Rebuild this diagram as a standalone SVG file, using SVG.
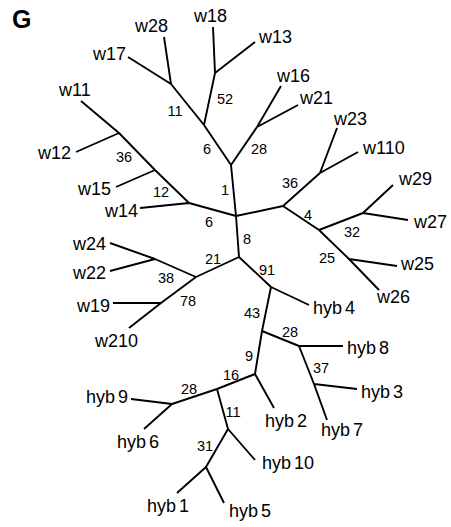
<svg xmlns="http://www.w3.org/2000/svg" width="451" height="527" viewBox="0 0 451 527">
  <style>
    .edge { stroke: #000; stroke-width: 1.9; fill: none; stroke-linecap: butt; }
    .leaf { font-family: "Liberation Sans", Arial, Helvetica, sans-serif; font-size: 18px; fill: #000; }
    .hyb { word-spacing: -2px; }
    .boot { font-family: "Liberation Sans", Arial, Helvetica, sans-serif; font-size: 14.5px; fill: #000; text-anchor: middle; }
    .panel { font-family: "Liberation Sans", Arial, Helvetica, sans-serif; font-size: 25px; font-weight: bold; fill: #000; }
  </style>
  <rect width="451" height="527" fill="#fff"/>
  <text class="panel" x="12" y="28">G</text>

  <!-- branches of the unrooted tree -->
  <g id="edges">
    <path class="edge" d="M236,216 L231,165 M231,165 L204,125 M231,165 L257,127"/>
    <path class="edge" d="M204,125 L215,73 M204,125 L171,84 M171,84 L128,57 M171,84 L164,37"/>
    <path class="edge" d="M215,73 L213,27 M215,73 L255,42 M257,127 L281,86 M257,127 L298,105"/>
    <path class="edge" d="M236,216 L283,206 M283,206 L320,173 M320,173 L337,128 M320,173 L358,152"/>
    <path class="edge" d="M283,206 L319,230 M319,230 L363,213 M363,213 L393,185 M363,213 L408,220"/>
    <path class="edge" d="M319,230 L349,259 M349,259 L397,266 M349,259 L379,290"/>
    <path class="edge" d="M236,216 L189,203 M189,203 L140,208 M189,203 L155,170 M155,170 L116,187"/>
    <path class="edge" d="M155,170 L119,133 M119,133 L76,152 M119,133 L81,101"/>
    <path class="edge" d="M236,216 L239,257 M239,257 L196,277 M196,277 L155,259 M155,259 L110,243 M155,259 L110,271"/>
    <path class="edge" d="M196,277 L161,303 M161,303 L113,303 M161,303 L129,328"/>
    <path class="edge" d="M239,257 L271,287 M271,287 L309,305 M271,287 L262,331"/>
    <path class="edge" d="M262,331 L299,346 M299,346 L343,346 M299,346 L314,384 M314,384 L357,389 M314,384 L327,420"/>
    <path class="edge" d="M262,331 L255,374 M255,374 L274,408 M255,374 L217,389"/>
    <path class="edge" d="M217,389 L172,404 M172,404 L131,399 M172,404 L144,429"/>
    <path class="edge" d="M217,389 L228,429 M228,429 L255,460 M228,429 L206,467 M206,467 L224,503 M206,467 L177,493"/>
  </g>

  <!-- leaves -->
  <g id="w17"><text class="leaf" x="93" y="60">w17</text></g>
  <g id="w28"><text class="leaf" x="135" y="32">w28</text></g>
  <g id="w18"><text class="leaf" x="194" y="22">w18</text></g>
  <g id="w13"><text class="leaf" x="259" y="43">w13</text></g>
  <g id="w16"><text class="leaf" x="277" y="82">w16</text></g>
  <g id="w21"><text class="leaf" x="300" y="104">w21</text></g>
  <g id="w23"><text class="leaf" x="334" y="125">w23</text></g>
  <g id="w110"><text class="leaf" x="363" y="154">w110</text></g>
  <g id="w29"><text class="leaf" x="399" y="185">w29</text></g>
  <g id="w27"><text class="leaf" x="414" y="228">w27</text></g>
  <g id="w25"><text class="leaf" x="401" y="270">w25</text></g>
  <g id="w26"><text class="leaf" x="377" y="303">w26</text></g>
  <g id="w11"><text class="leaf" x="59" y="96">w11</text></g>
  <g id="w12"><text class="leaf" x="38" y="159">w12</text></g>
  <g id="w15"><text class="leaf" x="78" y="195">w15</text></g>
  <g id="w14"><text class="leaf" x="105" y="217">w14</text></g>
  <g id="w24"><text class="leaf" x="73" y="250">w24</text></g>
  <g id="w22"><text class="leaf" x="73" y="279">w22</text></g>
  <g id="w19"><text class="leaf" x="77" y="312">w19</text></g>
  <g id="w210"><text class="leaf" x="95" y="347">w210</text></g>
  <g id="hyb4"><text class="leaf hyb" x="313" y="314">hyb 4</text></g>
  <g id="hyb8"><text class="leaf hyb" x="347" y="354">hyb 8</text></g>
  <g id="hyb3"><text class="leaf hyb" x="361" y="398">hyb 3</text></g>
  <g id="hyb7"><text class="leaf hyb" x="321" y="436">hyb 7</text></g>
  <g id="hyb2"><text class="leaf hyb" x="265" y="427">hyb 2</text></g>
  <g id="hyb9"><text class="leaf hyb" x="86" y="403">hyb 9</text></g>
  <g id="hyb6"><text class="leaf hyb" x="117" y="448">hyb 6</text></g>
  <g id="hyb10"><text class="leaf hyb" x="262" y="469">hyb 10</text></g>
  <g id="hyb5"><text class="leaf hyb" x="229" y="517">hyb 5</text></g>
  <g id="hyb1"><text class="leaf hyb" x="147" y="512">hyb 1</text></g>

  <!-- bootstrap support at internal nodes -->
  <g id="n1"><text class="boot" x="225" y="195">1</text></g>
  <g id="n6a"><text class="boot" x="207" y="154">6</text></g>
  <g id="n28a"><text class="boot" x="259" y="154">28</text></g>
  <g id="n52"><text class="boot" x="225" y="104">52</text></g>
  <g id="n11a"><text class="boot" x="175" y="116">11</text></g>
  <g id="n36a"><text class="boot" x="290" y="188">36</text></g>
  <g id="n4"><text class="boot" x="308" y="220">4</text></g>
  <g id="n32"><text class="boot" x="352" y="237">32</text></g>
  <g id="n25"><text class="boot" x="327" y="263">25</text></g>
  <g id="n6b"><text class="boot" x="209" y="227">6</text></g>
  <g id="n12"><text class="boot" x="161" y="197">12</text></g>
  <g id="n36b"><text class="boot" x="124" y="162">36</text></g>
  <g id="n8"><text class="boot" x="247" y="244">8</text></g>
  <g id="n21"><text class="boot" x="213" y="264">21</text></g>
  <g id="n38"><text class="boot" x="166" y="283">38</text></g>
  <g id="n78"><text class="boot" x="188" y="306">78</text></g>
  <g id="n91"><text class="boot" x="267" y="275">91</text></g>
  <g id="n43"><text class="boot" x="252" y="318">43</text></g>
  <g id="n28b"><text class="boot" x="290" y="337">28</text></g>
  <g id="n37"><text class="boot" x="321" y="373">37</text></g>
  <g id="n9"><text class="boot" x="249" y="361">9</text></g>
  <g id="n16"><text class="boot" x="231" y="380">16</text></g>
  <g id="n28c"><text class="boot" x="189" y="394">28</text></g>
  <g id="n11b"><text class="boot" x="233" y="417">11</text></g>
  <g id="n31"><text class="boot" x="205" y="451">31</text></g>
</svg>
